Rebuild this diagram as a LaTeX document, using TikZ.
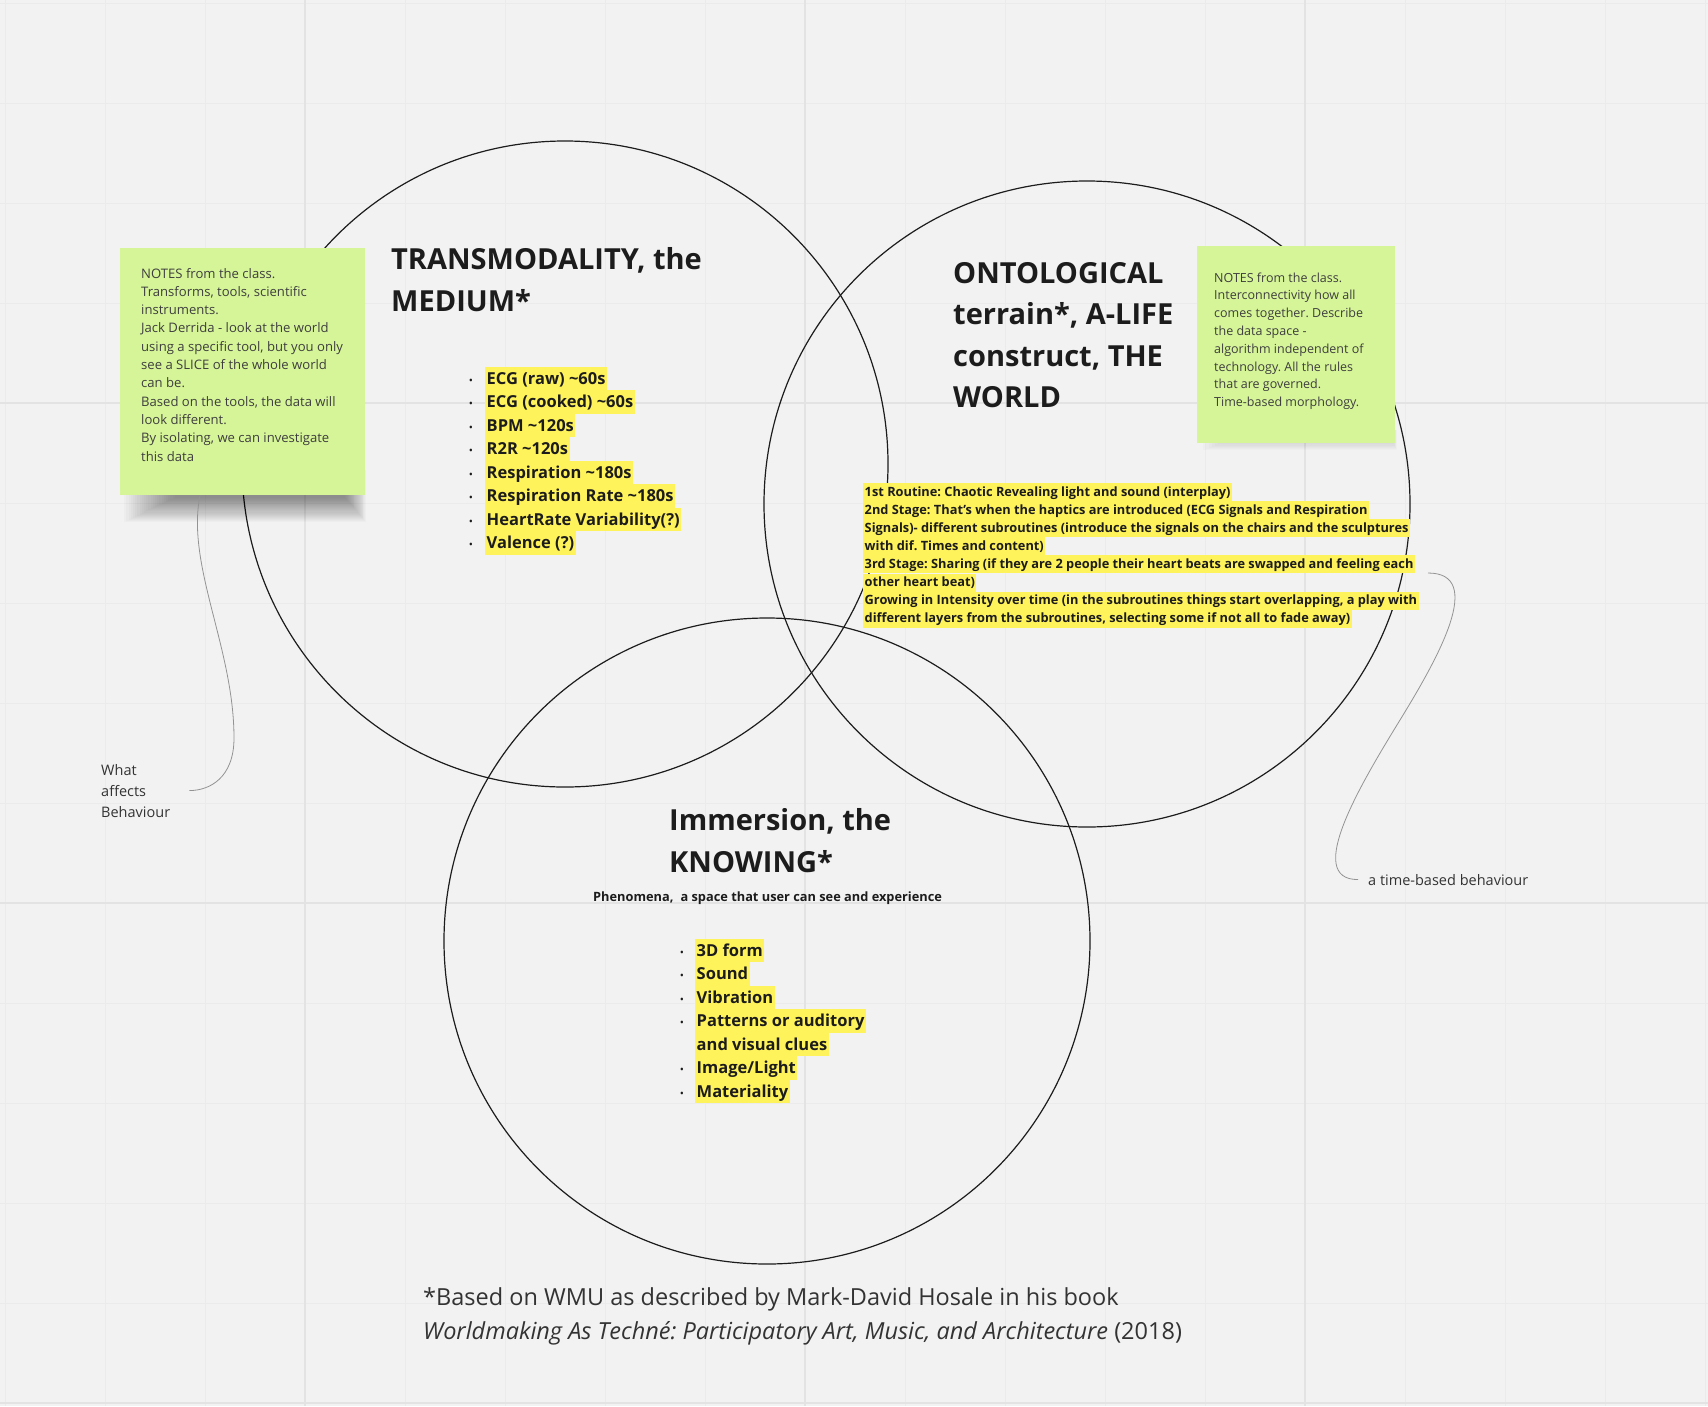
\documentclass[tikz,border=0pt]{standalone}
\usepackage{fontspec}
\setmainfont{Open Sans}
\frenchspacing
\usetikzlibrary{positioning}
\definecolor{board}{RGB}{242,242,242}
\definecolor{gridln}{RGB}{235,235,235}
\definecolor{gridmj}{RGB}{227,227,227}
\definecolor{notegreen}{RGB}{214,245,152}
\definecolor{marker}{RGB}{255,243,92}
\definecolor{ink}{RGB}{28,28,28}

\begin{document}
\begin{tikzpicture}[x=1pt, y=-1pt,
    ring/.style={draw=ink, line width=1.2pt, circle, minimum size=646pt, inner sep=0pt},
    hdr/.style={font=\fontsize{29}{42}\selectfont\bfseries, text=ink,
                align=left, inner sep=0pt, anchor=base west},
    note/.style={fill=notegreen, anchor=north west, inner sep=0pt},
    notetxt/.style={font=\fontsize{12.5}{17.8}\selectfont, text=ink!85,
                    align=left, inner sep=0pt, anchor=base west},
    itm/.style={fill=marker, font=\fontsize{16.5}{23.5}\selectfont\bfseries, text=ink,
                inner xsep=1.5pt, inner ysep=0pt, text height=17.5pt, text depth=6pt,
                anchor=base west},
    bul/.style={font=\fontsize{11}{10}\selectfont, text=ink, inner sep=0pt, anchor=base},
    stage/.style={fill=marker, font=\fontsize{12.8}{18}\selectfont\bfseries, text=ink,
                  inner xsep=1.5pt, inner ysep=0pt, text height=13pt, text depth=5pt,
                  anchor=base west},
    side/.style={font=\fontsize{14.5}{21}\selectfont, text=ink!90, align=left,
                 inner sep=0pt, anchor=base west},
    lead/.style={draw=gray!85, line width=0.8pt}
  ]
  % --- board and grid ---
  \fill[board] (0,0) rectangle (1708,1406);
  \useasboundingbox (0,0) rectangle (1708,1406);
  \foreach \x in {5,105,...,1705} \draw[gridln, line width=1pt] (\x,0) -- (\x,1406);
  \foreach \y in {3,103,...,1403} \draw[gridln, line width=1pt] (0,\y) -- (1708,\y);
  \foreach \x in {305,805,1305} \draw[gridmj, line width=1.6pt] (\x,0) -- (\x,1406);
  \foreach \y in {403,903,1403} \draw[gridmj, line width=1.6pt] (0,\y) -- (1708,\y);

  % --- the three worlds ---
  \node[ring] (medium) at (565,464) {};
  \node[ring] (world)  at (1087,504) {};
  \node[ring] (knowing) at (767,941) {};

  % --- class notes (multi-line nodes sit on their last baseline) ---
  \foreach \k in {1,...,24}
    \fill[black, opacity=0.019] (122+2.2*\k,470) rectangle (367-0.9*\k,523-1.05*\k);
  \node[note, minimum width=245pt, minimum height=247pt] (note1) at (120,248) {};
  \node[notetxt, font=\fontsize{13.1}{18.3}\selectfont] (note1txt) at (141,461)
    {NOTES from the class.\\
     Transforms, tools, scientific\\
     instruments.\\
     Jack Derrida - look at the world\\
     using a specific tool, but you only\\
     see a SLICE of the whole world\\
     can be.\\
     Based on the tools, the data will\\
     look different.\\
     By isolating, we can investigate\\
     this data};
  \foreach \k in {1,...,8}
    \fill[black, opacity=0.015] (1200+3*\k,430) rectangle (1397-0.5*\k,451-1.1*\k);
  \node[note, minimum width=198pt, minimum height=197pt] (note2) at (1197,246) {};
  \node[notetxt] (note2txt) at (1214,406.6)
    {NOTES from the class.\\
     Interconnectivity how all\\
     comes together. Describe\\
     the data space -\\
     algorithm independent of\\
     technology. All the rules\\
     that are governed.\\
     Time-based morphology.};

  % --- TRANSMODALITY ---
  \node[hdr] (medhdr) at (391,311) {TRANSMODALITY, the\\MEDIUM*};
  \foreach \i in {1,...,8} \node[bul] at (471,360.5+23.5*\i) {•};
  \foreach \txt [count=\i] in {{ECG (raw) \textasciitilde60s},
      {ECG (cooked) \textasciitilde60s}, {BPM \textasciitilde120s},
      {R2R \textasciitilde120s}, {Respiration \textasciitilde180s},
      {Respiration Rate \textasciitilde180s}, {HeartRate Variability(?)},
      {Valence (?)}}
    \node[itm] (sig\i) at (485,360.5+23.5*\i) {\txt};

  % --- ONTOLOGICAL terrain ---
  \node[hdr, font=\fontsize{29}{41.5}\selectfont\bfseries] (worldhdr) at (953,407.5)
    {ONTOLOGICAL\\terrain*, A-LIFE\\construct, THE\\WORLD};
  \foreach \txt [count=\i] in {
      {1st Routine: Chaotic Revealing light and sound (interplay)},
      {2nd Stage: That’s when the haptics are introduced (ECG Signals and Respiration},
      {Signals)- different subroutines (introduce the signals on the chairs and the sculptures},
      {with dif. Times and content)},
      {3rd Stage: Sharing (if they are 2 people their heart beats are swapped and feeling each},
      {other heart beat)},
      {Growing in Intensity over time (in the subroutines things start overlapping, a play with},
      {different layers from the subroutines, selecting some if not all to fade away)}}
    \node[stage] (stage\i) at (863,477.9+18.1*\i) {\txt};

  % --- Immersion ---
  \node[hdr] (knowhdr) at (669,872) {Immersion, the\\KNOWING*};
  \node[anchor=base west, inner sep=0pt, text=ink,
        font=\fontsize{12.8}{15}\selectfont\bfseries] (phen) at (593,901)
    {Phenomena,\hspace{0.55em}a space that user can see and experience};
  \foreach \i in {1,2,3,4,6,7} \node[bul] at (682,932.5+23.5*\i) {•};
  \foreach \txt [count=\i] in {{3D form}, {Sound}, {Vibration},
      {Patterns or auditory}, {and visual clues}, {Image/Light}, {Materiality}}
    \node[itm] (sense\i) at (695,932.5+23.5*\i) {\txt};

  % --- side remarks ---
  \node[side] (wab) at (101,817) {What\\affects\\Behaviour};
  \node[side] (tbb) at (1368,885) {a time-based behaviour};
  \coordinate (tailB) at (1428,573);
  \draw[lead] ([xshift=80pt]note1.south west) .. controls +(-14,70) and +(0,-90) .. (234,738)
    .. controls +(0,40) and +(20,0) .. ([xshift=19pt]wab.east);
  \draw[lead] (tailB) .. controls +(58,0) and +(38,-62) .. (1400,720)
    .. controls +(-38,62) and +(-55,0) .. ([xshift=-10pt]tbb.west);

  % --- source ---
  \node[anchor=base west, inner sep=0pt, align=left, text=ink!90,
        font=\fontsize{23.5}{34}\selectfont] (src) at (423,1339)
    {*Based on WMU as described by Mark-David Hosale in his book\\
     \textit{Worldmaking As Techné: Participatory Art, Music, and Architecture} (2018)};
\end{tikzpicture}
\end{document}
